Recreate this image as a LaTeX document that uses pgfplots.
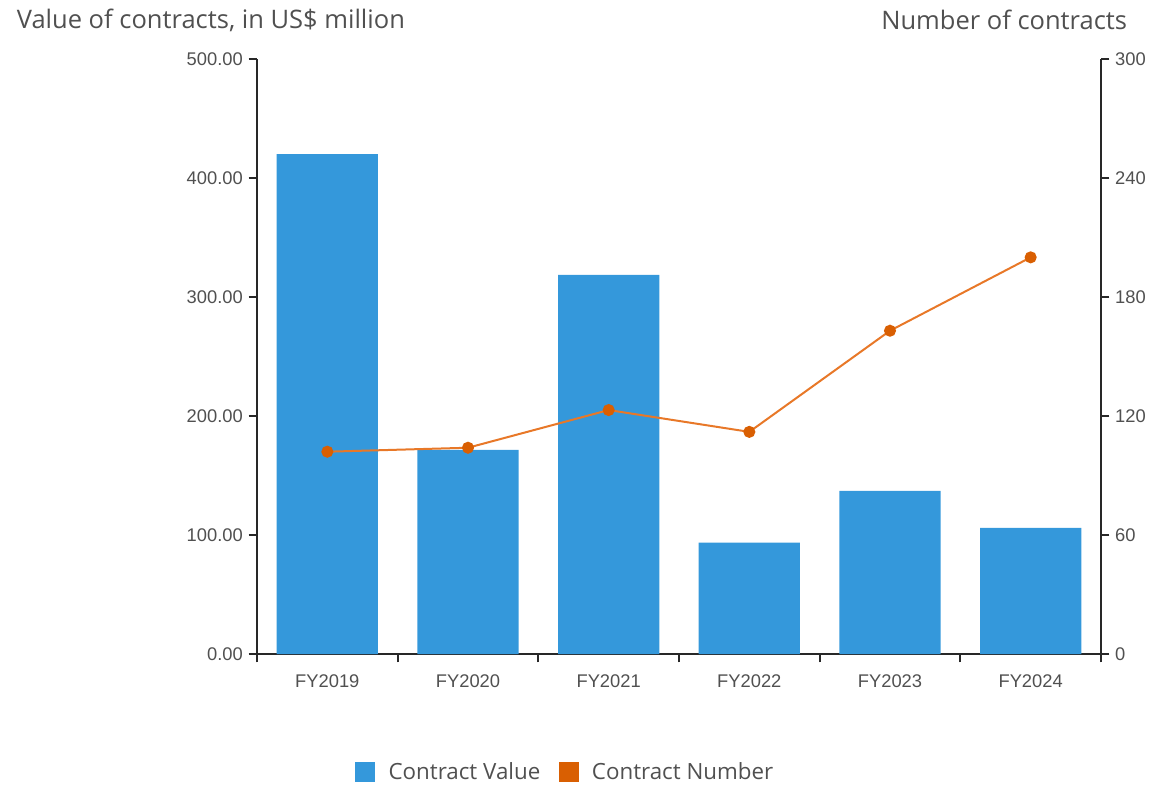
\documentclass[border=0pt]{standalone}
\usepackage{pgfplots}
\pgfplotsset{compat=1.18}
\usepackage{fontspec}
\setmainfont{Open Sans}
\newfontfamily\tickfont{Liberation Sans}
\definecolor{barblue}{RGB}{52,152,219}
\definecolor{lineorange}{RGB}{232,120,40}
\definecolor{markorange}{RGB}{217,95,2}
\definecolor{txtgray}{RGB}{80,80,80}
\definecolor{axisgray}{RGB}{40,40,40}

\pgfplotsset{
  chartbase/.style={
    scale only axis,
    width=506.4pt, height=357pt,
    at={(154.2pt,78pt)}, anchor=south west,
    xmin=-0.5, xmax=5.5,
    ymin=0,
    tick align=outside,
    major tick length=5pt,
    every tick/.style={axisgray, line width=1.1pt},
    axis line style={axisgray, line width=1.2pt},
    tick label style={font=\tickfont\fontsize{11}{13}\selectfont, text=txtgray},
    /pgf/number format/assume math mode=true,
  },
}

\begin{document}
\begin{tikzpicture}[x=0.6pt,y=0.6pt]
\useasboundingbox (0,0) rectangle (1154,784);

\begin{axis}[chartbase,
  ymax=500,
  axis x line*=bottom, axis y line*=left,
  xtick={-0.5,0.5,...,5.5},
  x tick label as interval,
  xticklabels={FY2019,FY2020,FY2021,FY2022,FY2023,FY2024},
  xticklabel style={yshift=-4pt},
  ytick={0,100,...,500},
  yticklabel style={/pgf/number format/.cd, fixed, fixed zerofill, precision=2},
  legend style={at={(0.366,-0.198)}, anchor=center, draw=none, fill=none,
    legend columns=2, font=\fontsize{13.4}{15}\selectfont, text=txtgray,
    /tikz/every odd column/.append style={column sep=6pt},
    /tikz/every even column/.append style={column sep=9pt}},
  legend image code/.code={\fill[#1] (0pt,-6pt) rectangle (12pt,6pt);},
]
\addplot[ybar, bar width=0.72, fill=barblue, draw=none] coordinates {
  (0,420) (1,171.5) (2,318.5) (3,93.5) (4,137) (5,106)
};
\addlegendentry{Contract Value}
\addlegendimage{fill=markorange, draw=none}
\addlegendentry{Contract Number}
\end{axis}

\begin{axis}[chartbase,
  ymax=300,
  axis x line=none, axis y line*=right,
  ytick={0,60,...,300},
]
\addplot[lineorange, line width=1.2pt, mark=*, mark size=3pt,
  mark options={fill=markorange, draw=markorange}] coordinates {
  (0,102) (1,104) (2,123) (3,112) (4,163) (5,200)
};
\end{axis}

\node[anchor=west, text=txtgray, font=\fontsize{15.3}{18}\selectfont] at (11,764) {Value of contracts, in US\$ million};
\node[anchor=east, text=txtgray, font=\fontsize{15.3}{18}\selectfont] at (1133,764) {Number of contracts};
\end{tikzpicture}
\end{document}
